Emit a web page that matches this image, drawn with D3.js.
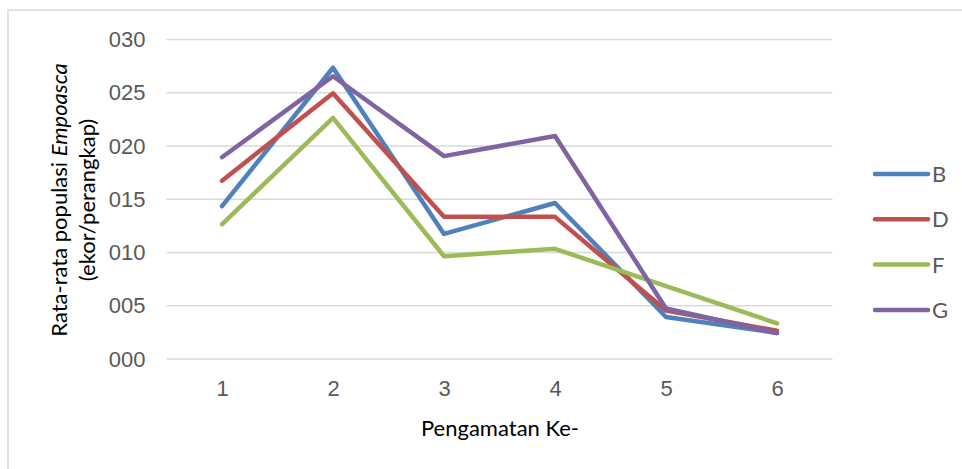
<!DOCTYPE html>
<html>
<head>
<meta charset="utf-8">
<script src="https://cdn.jsdelivr.net/npm/d3@7"></script>
<style>
  body { margin: 0; background: #fff; }
  svg { font-family: Lato, "Open Sans", sans-serif; }
  .grid line { stroke: #d9d9d9; stroke-width: 1.5px; }
  .grid path { display: none; }
  .tick text { fill: #595959; font-size: 22px; }
</style>
</head>
<body>
<svg id="chart" width="962" height="469"></svg>
<script>
// observations (x axis)
var obs = ["1", "2", "3", "4", "5", "6"];
var yTicks = [0, 5, 10, 15, 20, 25, 30];

// mean Empoasca population per trap, per treatment
var seriesB = [14.3, 27.3, 11.7, 14.6, 3.9, 2.4];
var seriesD = [16.7, 24.9, 13.3, 13.3, 4.5, 2.6];
var seriesF = [12.6, 22.6, 9.6, 10.3, 6.8, 3.3];
var seriesG = [18.9, 26.5, 19.0, 20.9, 4.7, 2.4];

var names = ["B", "D", "F", "G"];
var colors = ["#4f81bd", "#c0504d", "#9bbb59", "#8064a2"];

var data = [
  {group: "B", values: seriesB},
  {group: "D", values: seriesD},
  {group: "F", values: seriesF},
  {group: "G", values: seriesG}
];

var svg = d3.select("#chart");

// chart area border
svg.append("rect")
  .attr("x", 8).attr("y", 10)
  .attr("width", 1000).attr("height", 500)
  .attr("fill", "none")
  .attr("stroke", "#d9d9d9")
  .attr("stroke-width", 1.5);

var margin = {top: 39, left: 166.5},
    width = 666,
    height = 319.5;

var g = svg.append("g").attr("transform", "translate(" + margin.left + "," + margin.top + ")");

var x = d3.scalePoint()
  .domain(obs)
  .range([0, width])
  .padding(0.5);

var y = d3.scaleLinear()
  .domain([0, 30])
  .range([height, 0]);

var color = d3.scaleOrdinal().domain(names).range(colors);

// horizontal gridlines + y labels
g.append("g")
  .attr("class", "grid")
  .call(d3.axisLeft(y)
    .tickValues(yTicks)
    .tickSize(-width)
    .tickPadding(21)
    .tickFormat(d3.format("03d")))
  .selectAll(".tick text")
  .attr("dy", "0.35em");

// x labels
g.append("g")
  .attr("transform", "translate(0," + height + ")")
  .call(d3.axisBottom(x).tickSize(0).tickPadding(22))
  .call(function (a) { a.select(".domain").remove(); });

var line = d3.line()
  .x(function (d, i) { return x(obs[i]); })
  .y(function (d) { return y(d); });

g.selectAll(".line")
  .data(data)
  .enter().append("path")
  .attr("class", "line")
  .attr("d", function (d) { return line(d.values); })
  .attr("fill", "none")
  .attr("stroke", function (d) { return color(d.group); })
  .attr("stroke-width", 4.5)
  .attr("stroke-linejoin", "round")
  .attr("stroke-linecap", "round");

// axis titles
var yt = svg.append("text")
  .attr("transform", "translate(67,200) rotate(-90)")
  .attr("text-anchor", "middle")
  .style("font-size", "22px")
  .style("fill", "#000");
yt.append("tspan").attr("x", 0).attr("dy", 0).text("Rata-rata populasi ");
yt.append("tspan").style("font-style", "italic").text("Empoasca");
yt.append("tspan").attr("x", 0).attr("dy", "1.27em").text("(ekor/perangkap)");

svg.append("text")
  .attr("x", 500)
  .attr("y", 436)
  .attr("text-anchor", "middle")
  .style("font-size", "22px")
  .style("fill", "#000")
  .text("Pengamatan Ke-");

// legend
var legend = svg.selectAll(".legend")
  .data(names)
  .enter().append("g")
  .attr("class", "legend")
  .attr("transform", function (d, i) { return "translate(873," + (174 + i * 45.3) + ")"; });

legend.append("line")
  .attr("x1", 2).attr("x2", 55)
  .attr("stroke", function (d) { return color(d); })
  .attr("stroke-width", 4.5)
  .attr("stroke-linecap", "round");

legend.append("text")
  .attr("x", 59)
  .attr("dy", "0.36em")
  .style("font-size", "22px")
  .style("fill", "#595959")
  .text(function (d) { return d; });
</script>
</body>
</html>
